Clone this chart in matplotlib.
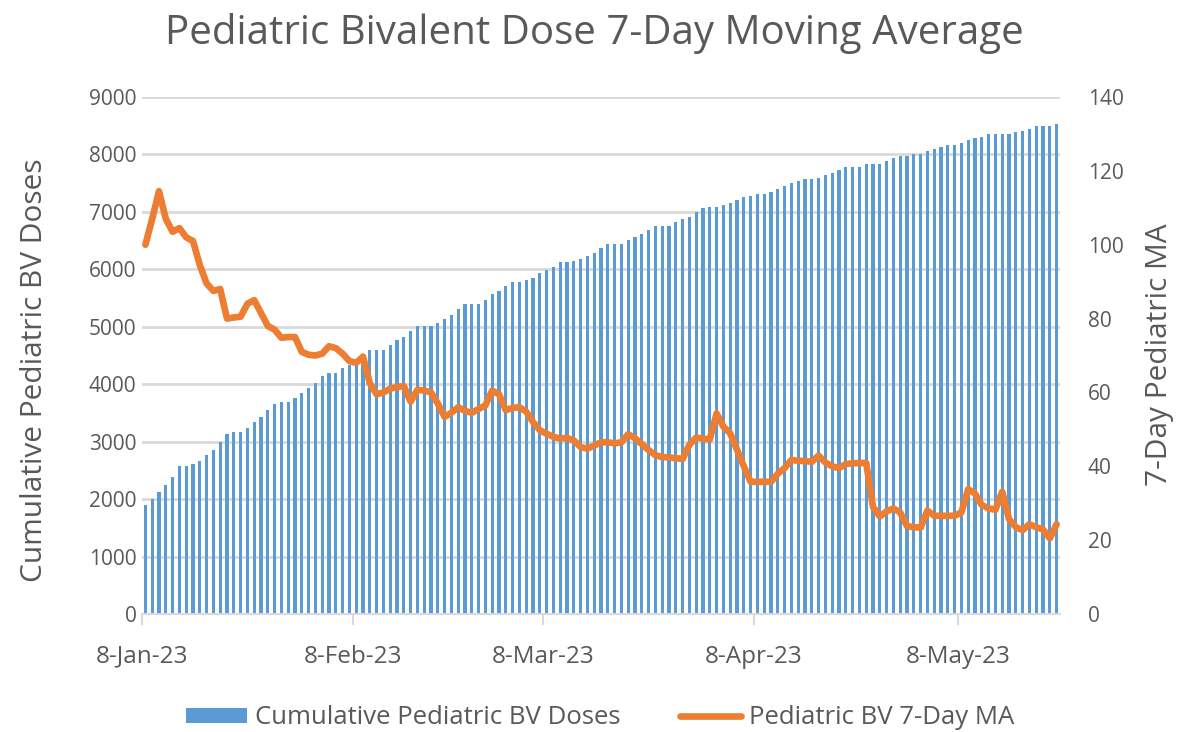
import matplotlib
matplotlib.use("Agg")
import matplotlib.pyplot as plt
import matplotlib.dates as mdates
import numpy as np
import pandas as pd

# ---- data ----
start_date = "2023-01-08"
end_date = "2023-05-22"

cumulative_doses = [
    1898, 1997, 2130, 2246, 2380, 2577, 2577, 2606, 2664, 2768,
    2855, 3000, 3134, 3163, 3163, 3244, 3348, 3435, 3552, 3656,
    3685, 3685, 3766, 3853, 3929, 4016, 4149, 4190, 4190, 4277,
    4335, 4400, 4510, 4596, 4596, 4596, 4683, 4770, 4828, 4933,
    5014, 5014, 5014, 5065, 5130, 5210, 5315, 5397, 5397, 5397,
    5470, 5566, 5623, 5710, 5786, 5786, 5815, 5844, 5931, 5989,
    6036, 6123, 6123, 6152, 6181, 6239, 6291, 6366, 6447, 6447,
    6447, 6511, 6564, 6616, 6680, 6761, 6761, 6761, 6819, 6871,
    6917, 7004, 7063, 7091, 7091, 7121, 7150, 7208, 7255, 7283,
    7312, 7312, 7341, 7399, 7451, 7509, 7539, 7568, 7568, 7585,
    7643, 7672, 7730, 7782, 7782, 7782, 7835, 7835, 7835, 7893,
    7945, 7980, 7980, 8003, 8003, 8061, 8090, 8136, 8165, 8165,
    8194, 8252, 8281, 8310, 8357, 8357, 8357, 8357, 8386, 8415,
    8444, 8496, 8496, 8496, 8525,
]

moving_avg = [
    100, 107, 114.5, 107, 103.5, 104.5, 102, 101, 94.5, 89.5,
    87.5, 88, 80, 80.3, 80.5, 84, 85, 81.5, 78, 77,
    74.8, 75, 75, 71, 70.2, 70, 70.5, 72.5, 72, 70.5,
    68.5, 68, 69.7, 62.5, 59.5, 60, 61, 61.5, 61.7, 57.5,
    60.7, 60.5, 60, 57, 53.4, 54.5, 56, 55, 54.5, 55.5,
    56.5, 60.5, 59.5, 55.2, 55.8, 56, 54.8, 52, 49.8, 48.8,
    48, 47.5, 47.7, 47, 45.2, 44.8, 45.6, 46.5, 46.5, 46.2,
    46.5, 48.7, 47.6, 46, 44.4, 43, 42.5, 42.4, 42.2, 42,
    45.8, 47.8, 47.5, 47.3, 54.3, 50.7, 48.9, 44.5, 40, 35.8,
    35.8, 35.8, 35.8, 38, 39.5, 41.7, 41.5, 41.4, 41.2, 42.9,
    41, 40, 39.5, 40.6, 40.8, 40.9, 40.9, 29, 26.4, 27.8,
    28.6, 27.5, 23.8, 23.5, 23.4, 28, 26.6, 26.6, 26.6, 26.6,
    27.5, 33.8, 32.6, 29.5, 28.6, 28.2, 33.1, 25.7, 23.5, 22.7,
    24.3, 23.5, 22.9, 20.5, 24.3,
]

tick_dates = ["2023-01-08", "2023-02-08", "2023-03-08", "2023-04-08", "2023-05-08"]
left_ticks = list(range(0, 9001, 1000))
right_ticks = list(range(0, 141, 20))

title = "Pediatric Bivalent Dose 7-Day Moving Average"
bar_label = "Cumulative Pediatric BV Doses"
line_label = "Pediatric BV 7-Day MA"
left_ylabel = "Cumulative Pediatric BV Doses"
right_ylabel = "7-Day Pediatric MA"

# ---- styling ----
FONT = ["Open Sans", "DejaVu Sans"]
plt.rcParams["font.family"] = FONT
TXT = "#595959"
BLUE = "#5B9BD5"
ORANGE = "#ED7D31"
GRID = "#D9D9D9"
W, H = 1183, 732

dates = pd.date_range(start_date, end_date)
xcenters = dates + pd.Timedelta(hours=12)

fig = plt.figure(figsize=(W / 100, H / 100), dpi=100)
ax = fig.add_axes([142 / W, 1 - 614 / H, (1060 - 142) / W, (614 - 97) / H])
ax2 = ax.twinx()

ax.bar(xcenters, cumulative_doses, width=0.48, color=BLUE, zorder=2,
       label=bar_label)
ax2.plot(xcenters, moving_avg, color=ORANGE, lw=4.8, solid_capstyle="round",
         solid_joinstyle="round", label=line_label, zorder=3)

ax.set_xlim(dates[0], dates[-1] + pd.Timedelta(days=1))
ax.set_ylim(0, 9000)
ax2.set_ylim(0, 140)
ax.set_yticks(left_ticks)
ax2.set_yticks(right_ticks)

ax.set_axisbelow(True)
ax.yaxis.grid(True, color=GRID, lw=2)
ax.xaxis.grid(False)

tk = pd.to_datetime(tick_dates)
ax.set_xticks(tk)
ax.set_xticklabels([f"{d.day}-{d.strftime('%b-%y')}" for d in tk])

for a in (ax, ax2):
    for s in ("top", "left", "right", "bottom"):
        a.spines[s].set_visible(False)
ax.spines["bottom"].set_visible(True)
ax.spines["bottom"].set_color(GRID)
ax.spines["bottom"].set_linewidth(1.5)

ax.tick_params(axis="x", colors=GRID, labelcolor=TXT, length=8, width=1.5,
               labelsize=17.5, pad=14)
ax.tick_params(axis="y", length=0, labelcolor=TXT, labelsize=15, pad=4)
ax2.tick_params(axis="y", length=0, labelcolor=TXT, labelsize=15, pad=20)

fig.text(35 / W, 1 - 370 / H, left_ylabel, rotation=90, ha="center",
         va="center", color=TXT, fontsize=21.5)
fig.text(1160 / W, 1 - 355 / H, right_ylabel, rotation=90, ha="center",
         va="center", color=TXT, fontsize=21.5)

fig.text(594 / W, 1 - 33 / H, title, ha="center", va="center", color=TXT,
         fontsize=29)

h1, l1 = ax.get_legend_handles_labels()
h2, l2 = ax2.get_legend_handles_labels()
fig.legend(h1 + h2, l1 + l2, loc="center", bbox_to_anchor=(600 / W, 1 - 718 / H),
           ncol=2, frameon=False, fontsize=18.5, labelcolor=TXT,
           handlelength=2.4, handleheight=0.5, columnspacing=2.3,
           handletextpad=0.3)

fig.savefig("out.png", dpi=100)
